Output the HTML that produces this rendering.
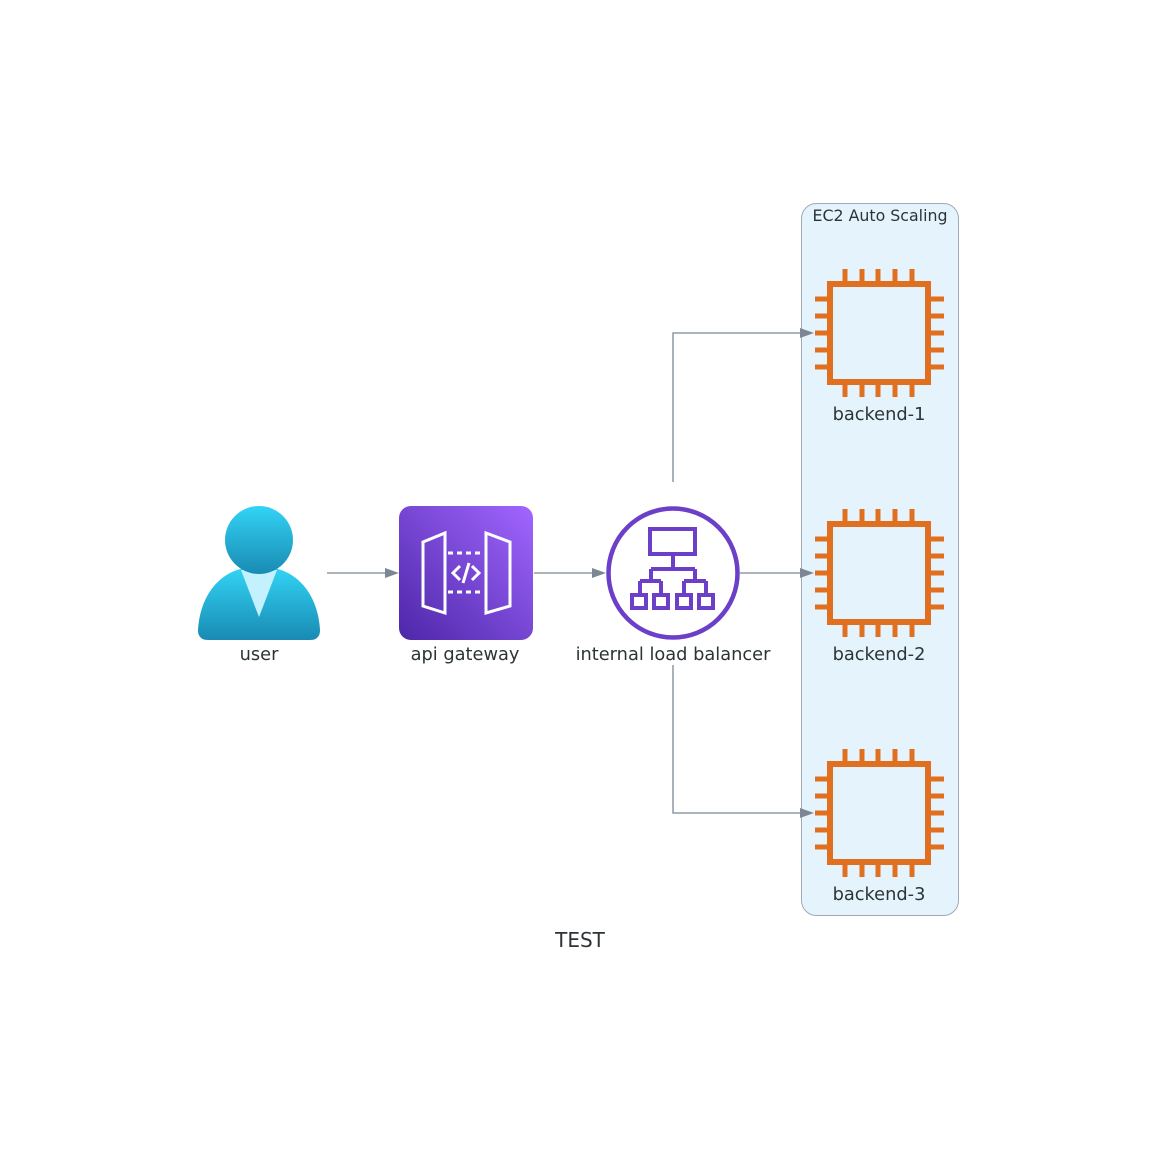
<!DOCTYPE html>
<html><head><meta charset="utf-8"><style>
html,body{margin:0;padding:0;background:#fff;}
svg{display:block;}
text{font-family:"DejaVu Sans","Liberation Sans",sans-serif;fill:#2d3436;}
</style></head><body>
<svg width="1160" height="1152" viewBox="0 0 1160 1152" xmlns="http://www.w3.org/2000/svg">
<defs>
<linearGradient id="ug" x1="0" y1="0" x2="0" y2="1"><stop offset="0" stop-color="#32d4f5"/><stop offset="1" stop-color="#198ab3"/></linearGradient>
<linearGradient id="ag" x1="0" y1="1" x2="1" y2="0"><stop offset="0" stop-color="#4d27a8"/><stop offset="1" stop-color="#a166ff"/></linearGradient>
<g id="chip" fill="none" stroke="#e07020" stroke-width="5">
<rect x="830" y="284" width="98" height="98" stroke-width="6"/>
<path d="M845 269v12M862 269v12M878 269v12M895 269v12M912 269v12M845 385v12M862 385v12M878 385v12M895 385v12M912 385v12M815 299h12M815 316h12M815 333h12M815 350h12M815 367h12M931 299h13M931 316h13M931 333h13M931 350h13M931 367h13"/>
</g>
</defs>
<rect x="801.5" y="203.5" width="157" height="712" rx="15" fill="#e5f4fc" stroke="#a0aab4"/>
<text x="880" y="221" font-size="15.8" text-anchor="middle">EC2 Auto Scaling</text>
<use href="#chip"/>
<use href="#chip" y="240"/>
<use href="#chip" y="480"/>
<text x="879" y="420" font-size="17.8" text-anchor="middle">backend-1</text>
<text x="879" y="660" font-size="17.8" text-anchor="middle">backend-2</text>
<text x="879" y="900" font-size="17.8" text-anchor="middle">backend-3</text>
<g stroke="#7b8894" stroke-width="1.3" fill="none">
<path d="M327 573H388M534 573H594M740 573H802M673 482V333H802M673 665V813H802"/>
</g>
<g fill="#7b8894">
<path d="M399 573l-14-5v10z"/><path d="M606 573l-14-5v10z"/><path d="M814 573l-14-5v10z"/><path d="M814 333l-14-5v10z"/><path d="M814 813l-14-5v10z"/>
</g>
<path d="M198 630 C200 595 220 572 245 568 L273 568 C298 572 318 595 320 630 Q320 640 310 640 L208 640 Q198 640 198 630Z" fill="url(#ug)"/>
<path d="M241 570 L277 570 L259 617Z" fill="#c3f1fd"/>
<circle cx="259" cy="540" r="34" fill="url(#ug)"/>
<text x="259" y="660" font-size="17.8" text-anchor="middle">user</text>
<rect x="399" y="506" width="134" height="134" rx="12" fill="url(#ag)"/>
<g fill="none" stroke="#fff" stroke-width="3">
<path d="M423 542L445 533V613L423 606Z"/><path d="M486 533L510 542V606L486 613Z"/>
<path d="M448 553H484M448 592H484" stroke-dasharray="5 4"/>
<path d="M460 566l-7 7 7 7M472 566l7 7-7 7M469 563l-6 20"/>
</g>
<text x="465" y="660" font-size="17.8" text-anchor="middle">api gateway</text>
<g fill="none" stroke="#6c3fc9" stroke-width="4.5">
<circle cx="673" cy="573" r="64.5"/>
<rect x="650" y="529" width="45" height="25" stroke-width="4"/>
<path d="M673 555V569M651 569H695M651 569V581M695 569V581M640 581H661M684 581H706M640 581V594M661 581V594M684 581V594M706 581V594" stroke-width="4"/>
<rect x="632" y="595" width="14" height="13" stroke-width="4"/>
<rect x="654" y="595" width="14" height="13" stroke-width="4"/>
<rect x="677" y="595" width="14" height="13" stroke-width="4"/>
<rect x="699" y="595" width="14" height="13" stroke-width="4"/>
</g>
<text x="673" y="660" font-size="17.8" text-anchor="middle">internal load balancer</text>
<text x="580" y="947" font-size="20" text-anchor="middle">TEST</text>
</svg>
</body></html>
